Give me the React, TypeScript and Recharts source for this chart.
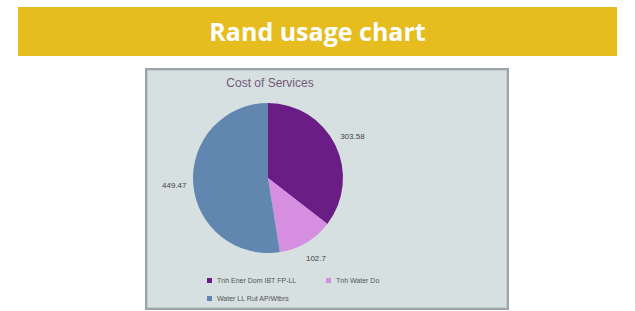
import React from 'react';
import { PieChart, Pie, Cell } from 'recharts';

const services = ['Tnh Ener Dom IBT FP-LL', 'Tnh Water Do', 'Water LL Rut AP/Wtbrs'];
const costs = [303.58, 102.7, 449.47];
const colors = ['#6a1d84', '#d68ee0', '#6186b0'];

const data = services.map((name, i) => ({ name, value: costs[i] }));

const RADIAN = Math.PI / 180;

const renderLabel = (props: any) => {
  const { cx, cy, midAngle, outerRadius, value } = props;
  const r = outerRadius + 19;
  const x = cx + r * Math.cos(-midAngle * RADIAN);
  const y = cy + r * Math.sin(-midAngle * RADIAN);
  return (
    <text x={x} y={y} textAnchor="middle" dominantBaseline="central" fontSize={8} fill="#444" fontFamily="Liberation Sans, Arial, sans-serif">
      {value}
    </text>
  );
};

const legendPos = [
  { left: 60, top: 207 },
  { left: 179, top: 207 },
  { left: 60, top: 225 },
];

export default function App() {
  return (
    <div style={{ position: 'relative', width: 635, height: 311, background: '#fff', overflow: 'hidden' }}>
      <style>{`body { margin: 0; }`}</style>
      <div
        style={{
          position: 'absolute', left: 18, top: 7, width: 599, height: 49,
          background: '#e6bc1f', color: '#fff', fontFamily: '"Open Sans", sans-serif',
          fontWeight: 700, fontSize: 25, textAlign: 'center', lineHeight: '49px',
        }}
      >
        Rand usage chart
      </div>
      <div
        style={{
          position: 'absolute', left: 145, top: 68, width: 360, height: 238,
          background: '#d6e0e0', border: '2px solid #9aa5a7', boxShadow: 'inset 0 0 0 1px #c3cdcd',
        }}
      >
        <PieChart width={360} height={238} margin={{ top: 0, right: 0, bottom: 0, left: 0 }}>
          <text x={123} y={13} textAnchor="middle" dominantBaseline="central" fontSize={12} fill="#74587a" fontFamily="Liberation Sans, Arial, sans-serif">
            Cost of Services
          </text>
          <Pie
            data={data}
            cx={121}
            cy={108}
            outerRadius={75}
            startAngle={90}
            endAngle={-270}
            dataKey="value"
            stroke="none"
            label={renderLabel}
            labelLine={false}
            isAnimationActive={false}
          >
            {data.map((d, i) => (
              <Cell key={d.name} fill={colors[i]} />
            ))}
          </Pie>
        </PieChart>
        {data.map((d, i) => (
          <div
            key={d.name}
            style={{
              position: 'absolute', left: legendPos[i].left, top: legendPos[i].top,
              display: 'flex', alignItems: 'center', whiteSpace: 'nowrap',
              fontFamily: 'Liberation Sans, Arial, sans-serif', fontSize: 7, color: '#555',
            }}
          >
            <span style={{ display: 'inline-block', width: 5, height: 5, background: colors[i], marginRight: 5 }} />
            {d.name}
          </div>
        ))}
      </div>
    </div>
  );
}
